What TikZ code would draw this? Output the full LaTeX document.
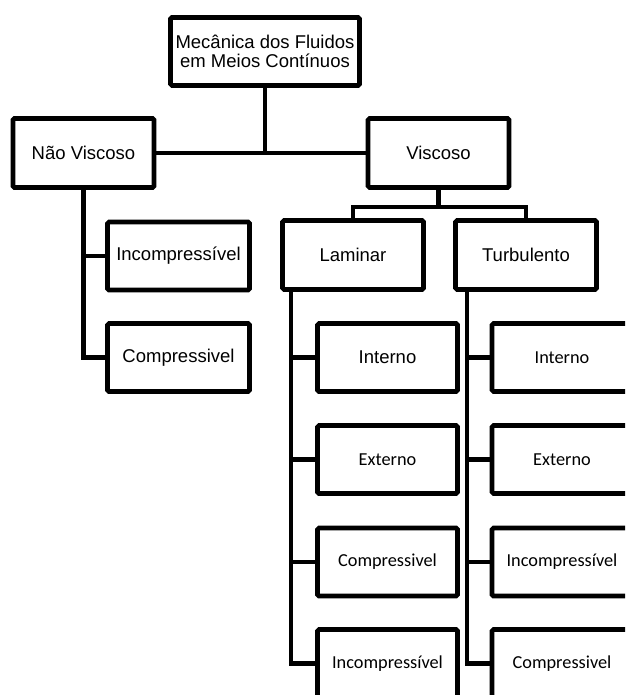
\documentclass[tikz,border=0pt]{standalone}
\usepackage{fontspec}
\setmainfont{Liberation Sans}
\newfontfamily\calib{Carlito}
\begin{document}
\begin{tikzpicture}[x=1pt,y=-1pt,
  box/.style={draw, line width=4.6pt, rounded corners=1.5pt, align=center,
    inner sep=0pt, fill=white, font=\fontsize{18.5pt}{19pt}\selectfont},
  rootbox/.style={box, minimum width=189pt, minimum height=68pt},
  midbox/.style={box, minimum width=141pt, minimum height=69pt},
  leafbox/.style={box, minimum width=140pt, minimum height=68pt},
  cal/.style={font=\calib\fontsize{18.3pt}{20pt}\selectfont},
  link/.style={line width=4.4pt, line join=miter}]
\useasboundingbox (0,0) rectangle (625,695);
\fill[white] (0,0) rectangle (625,695);
\clip (0,0) rectangle (625,695);

% main levels
\node[rootbox] (root) at (265,51.5) {Mecânica dos Fluidos\\em Meios Contínuos};
\node[midbox] (nv)  at (83.5,153)  {Não Viscoso};
\node[midbox] (vis) at (438.5,153) {Viscoso};
\node[midbox] (lam) at (353,255)   {Laminar};
\node[midbox] (tur) at (526,255)   {Turbulento};

% non-viscous branch
\node[leafbox, minimum width=142pt] (nvi) at (178.5,256)   {Incompressível};
\node[leafbox, minimum width=142pt] (nvc) at (178.5,357.5) {Compressivel};

% laminar branch
\node[leafbox]      (li)  at (387.5,357.5) {Interno};
\node[leafbox, cal] (le)  at (387.5,459.5) {Externo};
\node[leafbox, cal] (lc)  at (387.5,562)   {Compressivel};
\node[leafbox, cal] (lin) at (387.5,663.5) {Incompressível};

% turbulent branch
\node[leafbox, cal] (ti)  at (562,357.5) {Interno};
\node[leafbox, cal] (te)  at (562,459.5) {Externo};
\node[leafbox, cal] (tin) at (562,562)   {Incompressível};
\node[leafbox, cal] (tc)  at (562,663.5) {Compressivel};

% connectors
\draw[link] (root.south) -- (root.south |- nv.east);
\draw[link] (nv.east) -- (vis.west);

\draw[link] (nv.south) |- (nvc.west);
\draw[link] (nv.south |- nvi.west) -- (nvi.west);

\coordinate (vj) at ([yshift=-17pt]vis.south);
\draw[link] (vis.south) -- (vj);
\draw[link] (lam.north) |- (vj) -| (tur.north);

\coordinate (lt) at ([xshift=11pt]lam.south west);
\draw[link] (lt) |- (lin.west);
\foreach \n in {li,le,lc} \draw[link] (lt |- \n.west) -- (\n.west);

\coordinate (tt) at ([xshift=14pt]tur.south west);
\draw[link] (tt) |- (tc.west);
\foreach \n in {ti,te,tin} \draw[link] (tt |- \n.west) -- (\n.west);
\end{tikzpicture}
\end{document}
